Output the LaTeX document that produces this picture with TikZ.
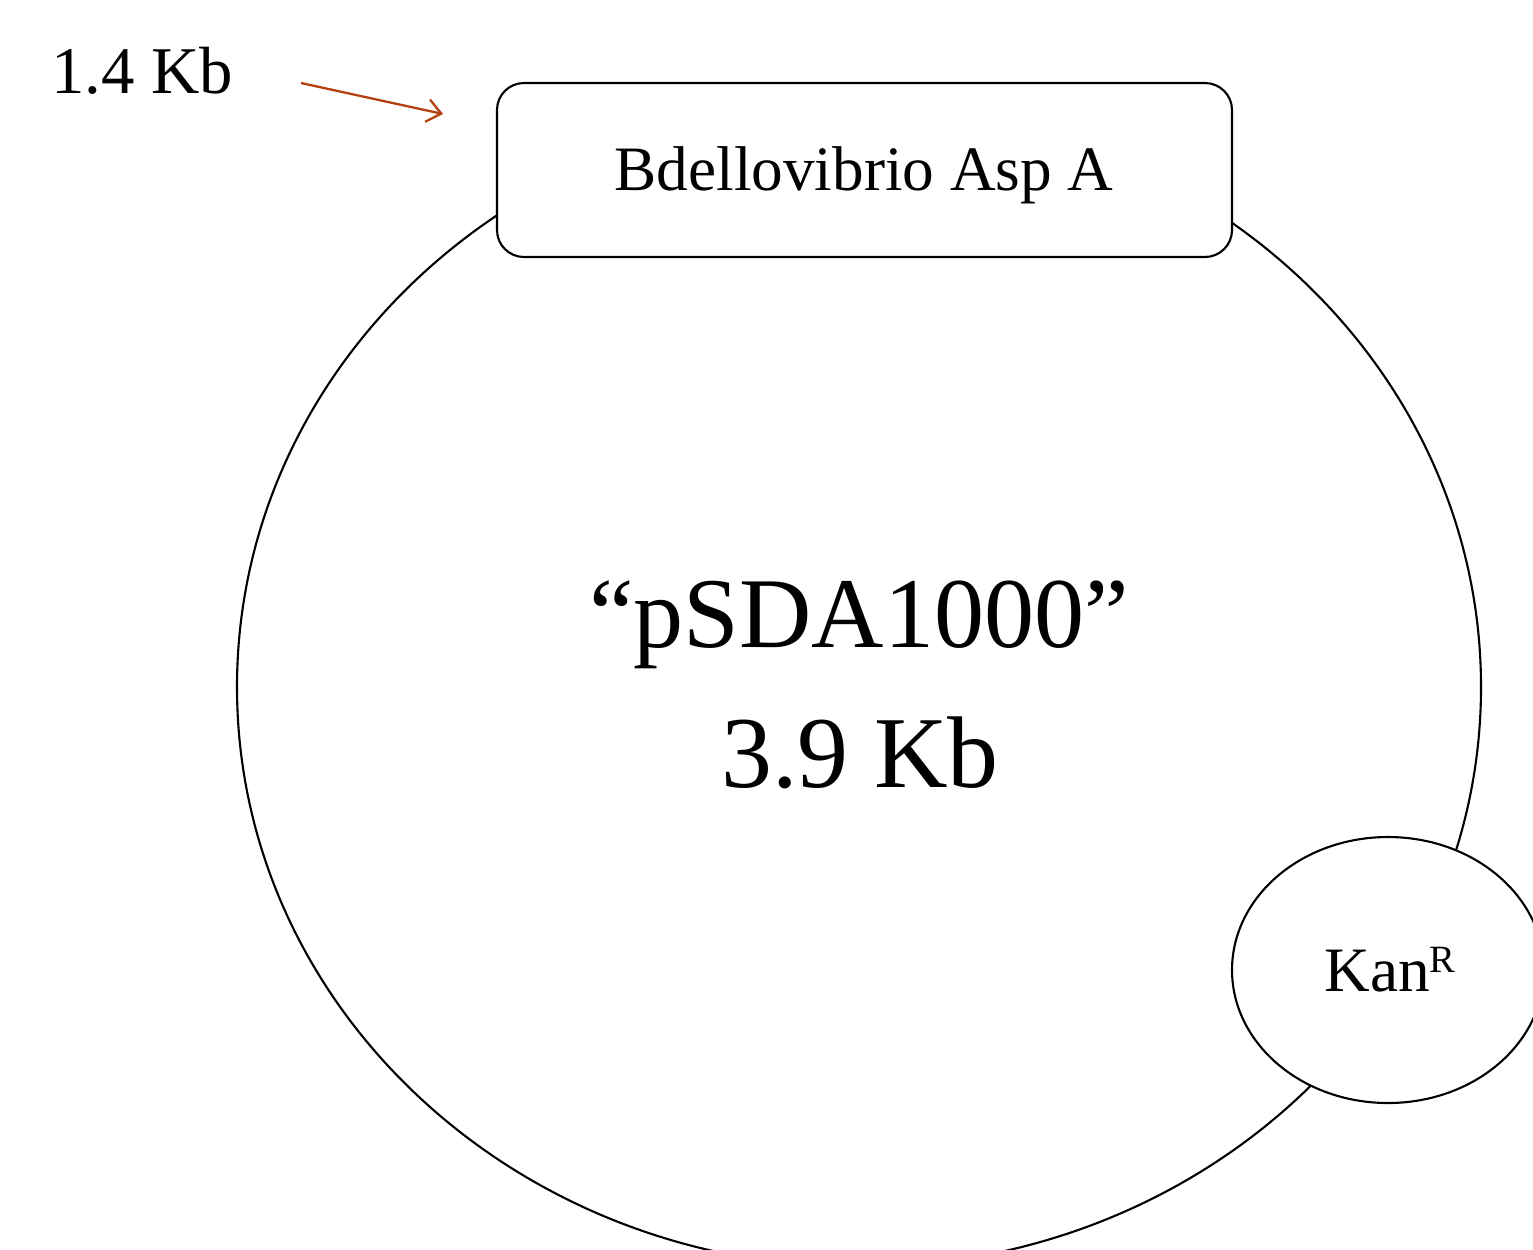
\documentclass[tikz,border=0pt]{standalone}
\usepackage{fontspec}
\setmainfont{Liberation Serif}
\usetikzlibrary{arrows.meta}
\definecolor{arrowred}{HTML}{B5400F}
\begin{document}
\begin{tikzpicture}[x=0.02cm,y=-0.02cm,
  outline/.style={draw=black,line width=1.2pt},
  txt/.style={inner sep=0pt,anchor=base},
]
\useasboundingbox (0,0) rectangle (1533,1249);
\clip (0,0) rectangle (1533,1249);
\fill[white] (0,0) rectangle (1533,1249);
% plasmid ring
\draw[outline] (859,687) ellipse [x radius=622, y radius=580];
% insert box
\draw[outline,fill=white,rounded corners=0.54cm] (497,83) rectangle (1232,257);
\node[txt] (insert) at (864,190) {\fontsize{36}{40}\selectfont Bdellovibrio Asp A};
% KanR ellipse
\draw[outline,fill=white] (1388,970) ellipse [x radius=156, y radius=133];
\node[txt] (kan) at (1390,991) {\fontsize{36}{40}\selectfont Kan\raisebox{0.30em}{\fontsize{22}{24}\selectfont R}};
% centre text
\node[txt] (name) at (859,647) {\fontsize{57}{60}\selectfont “pSDA1000”};
\node[txt] (size) at (860,787) {\fontsize{58}{60}\selectfont 3.9 Kb};
% size label and arrow
\node[txt] (ins) at (142,93) {\fontsize{38}{40}\selectfont 1.4 Kb};
\coordinate (a1) at (301,83);
\coordinate (a2) at (443,114);
\draw[arrowred,line width=1.3pt,-{Straight Barb[length=8pt,width=13pt,line width=1.3pt]}] (a1) -- (a2);
\end{tikzpicture}
\end{document}
